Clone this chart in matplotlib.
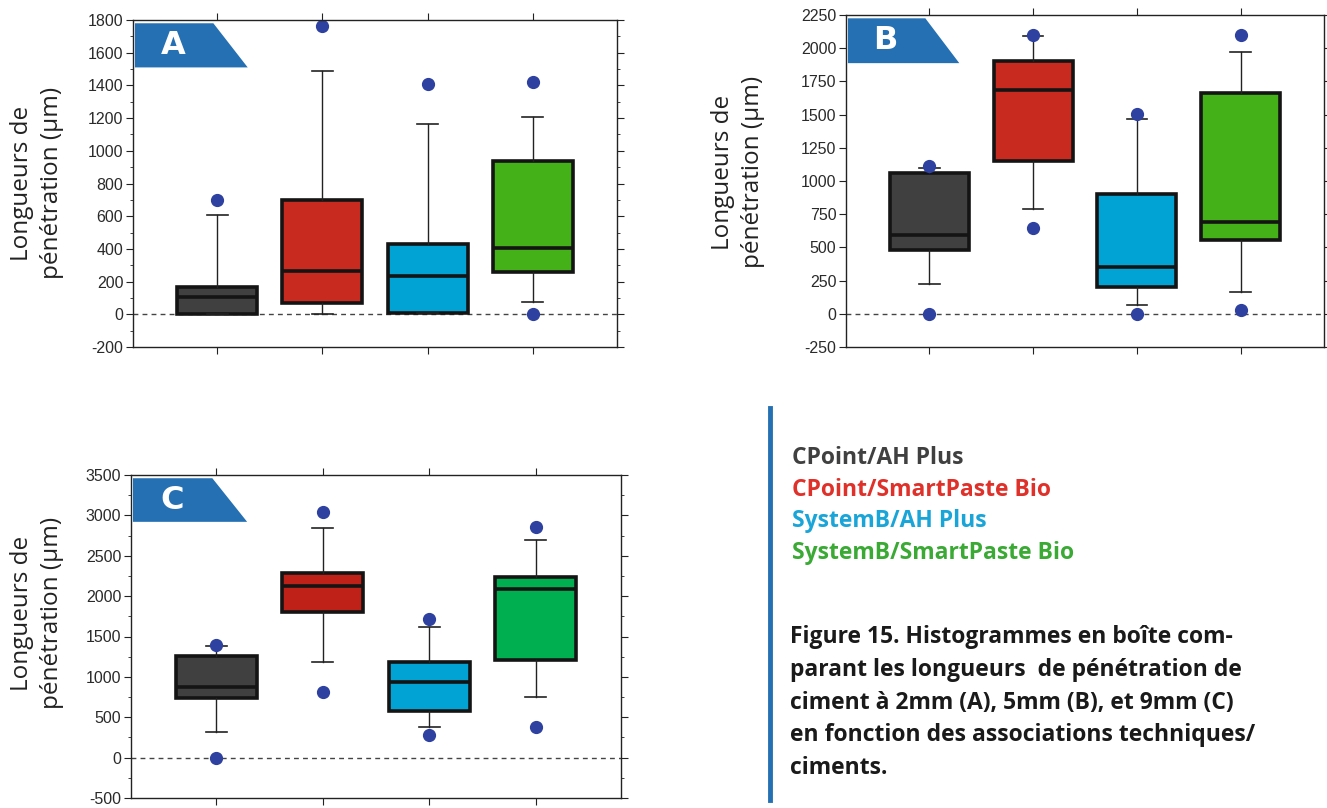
import matplotlib
matplotlib.use("Agg")
import matplotlib.pyplot as plt
from matplotlib.patches import Polygon
from matplotlib.ticker import MultipleLocator

plt.rcParams["axes.unicode_minus"] = False

# ---------------- data ----------------
groups = ["CPoint/AH Plus", "CPoint/SmartPaste Bio", "SystemB/AH Plus", "SystemB/SmartPaste Bio"]

# Panel A : 2 mm
A_q1 = [3, 72, 10, 257]
A_med = [103, 267, 232, 404]
A_q3 = [164, 698, 431, 938]
A_lo = [3, 0, 10, 78]
A_hi = [606, 1488, 1164, 1205]
A_fliers = [[698], [1766], [1410], [1423, 0]]

# Panel B : 5 mm
B_q1 = [483, 1151, 201, 553]
B_med = [591, 1684, 352, 691]
B_q3 = [1063, 1903, 900, 1659]
B_lo = [226, 787, 63, 163]
B_hi = [1099, 2092, 1466, 1974]
B_fliers = [[1114, 0], [2099, 646], [1508, 0], [2099, 30]]

# Panel C : 9 mm
C_q1 = [735, 1808, 578, 1205]
C_med = [879, 2125, 933, 2084]
C_q3 = [1259, 2282, 1180, 2233]
C_lo = [322, 1180, 376, 755]
C_hi = [1387, 2848, 1614, 2695]
C_fliers = [[1395, 0], [3037, 817], [1713, 281], [2860, 376]]

# ---------------- styles ----------------
DARK, RED, BLUE, GREEN = "#404040", "#c92a20", "#00a3d4", "#44b118"
C_COLORS = [DARK, "#bf2018", BLUE, "#00b050"]
FLIER = "#2e40a0"
BANNER = "#2470b3"
TXT_COLORS = ["#404040", "#e0302a", "#1aa5d8", "#3aaa35"]
TEXT_FONT = ["Open Sans", "DejaVu Sans"]

W, H = 1327, 808
fig = plt.figure(figsize=(W / 100, H / 100), dpi=100)


def px_axes(left, top, right, bottom):
    return fig.add_axes([left / W, 1 - bottom / H, (right - left) / W, (bottom - top) / H])


def panel(ax, q1, med, q3, lo, hi, fliers, colors, ylim, major, minor, letter):
    stats = [dict(q1=a, med=m, q3=b, whislo=l, whishi=h, fliers=f)
             for a, m, b, l, h, f in zip(q1, med, q3, lo, hi, fliers)]
    ax.axhline(0, color="#444444", lw=1, ls=(0, (3.5, 3)), zorder=1)
    bp = ax.bxp(stats, positions=[1, 2, 3, 4], widths=0.76, patch_artist=True,
                capwidths=0.2, manage_ticks=False,
                boxprops=dict(lw=2.6, edgecolor="#141414"),
                medianprops=dict(lw=2.6, color="#141414"),
                whiskerprops=dict(lw=1, color="#222222"),
                capprops=dict(lw=1.2, color="#222222"),
                flierprops=dict(marker="o", mfc=FLIER, mec=FLIER, ms=8.5))
    for patch, c in zip(bp["boxes"], colors):
        patch.set_facecolor(c)
        patch.set_zorder(2)
    ax.set_xlim(0.2, 4.8)
    ax.set_ylim(*ylim)
    ax.set_xticks([1, 2, 3, 4])
    ax.set_xticklabels([])
    ax.yaxis.set_major_locator(MultipleLocator(major))
    if minor:
        ax.yaxis.set_minor_locator(MultipleLocator(minor))
    ax.tick_params(which="both", direction="out", top=True, right=True,
                   labelright=False, labeltop=False, color="#222222")
    ax.tick_params(which="major", length=5, labelsize=11.5, pad=2, labelcolor="#2a2a2a")
    ax.tick_params(which="minor", length=2.5)
    for lab in ax.get_yticklabels():
        lab.set_family(["Liberation Sans", "DejaVu Sans"])
    for s in ax.spines.values():
        s.set_linewidth(1)
        s.set_color("#222222")
    # blue corner banner with the panel letter
    ax.add_patch(Polygon([[0.004, 0.99], [0.166, 0.99], [0.237, 0.855], [0.004, 0.855]],
                         closed=True, transform=ax.transAxes, facecolor=BANNER,
                         edgecolor="none", zorder=5, clip_on=False))
    ax.text(0.083, 0.922, letter, transform=ax.transAxes, ha="center", va="center",
            color="white", fontsize=23, fontweight="bold",
            family=["Liberation Sans Narrow", "DejaVu Sans"], zorder=6)


axA = px_axes(133, 20, 617, 347)
axB = px_axes(846, 15, 1324, 347)
axC = px_axes(131, 475, 621, 798)

panel(axA, A_q1, A_med, A_q3, A_lo, A_hi, A_fliers, [DARK, RED, BLUE, GREEN],
      (-200, 1800), 200, 100, "A")
panel(axB, B_q1, B_med, B_q3, B_lo, B_hi, B_fliers, [DARK, RED, BLUE, GREEN],
      (-250, 2250), 250, None, "B")
panel(axC, C_q1, C_med, C_q3, C_lo, C_hi, C_fliers, C_COLORS,
      (-500, 3500), 500, 250, "C")

ylab = "Longueurs de\npénétration (µm)"
for x, y in [(37, 183), (738, 172), (37, 613)]:
    fig.text(x / W, 1 - y / H, ylab, rotation=90, ha="center", va="center",
             multialignment="center", fontsize=17.5, color="#222222",
             family=TEXT_FONT, linespacing=1.3)

# legend block on the right
fig.add_artist(plt.Line2D([770 / W, 770 / W], [1 - 408 / H, 1 - 800 / H],
                          color=BANNER, lw=3.5))
for i, (g, c) in enumerate(zip(groups, TXT_COLORS)):
    fig.text(792 / W, 1 - (458 + i * 31.7) / H, g, ha="left", va="center",
             color=c, fontsize=16.5, fontweight="bold", family=TEXT_FONT)

caption = ["Figure 15. Histogrammes en boîte com-",
           "parant les longueurs  de pénétration de",
           "ciment à 2mm (A), 5mm (B), et 9mm (C)",
           "en fonction des associations techniques/",
           "ciments."]
for i, line in enumerate(caption):
    fig.text(790 / W, 1 - (637 + i * 32.8) / H, line, ha="left", va="center",
             color="#1a1a1a", fontsize=16.5, fontweight="bold", family=TEXT_FONT)

fig.savefig("out.png", dpi=100)
